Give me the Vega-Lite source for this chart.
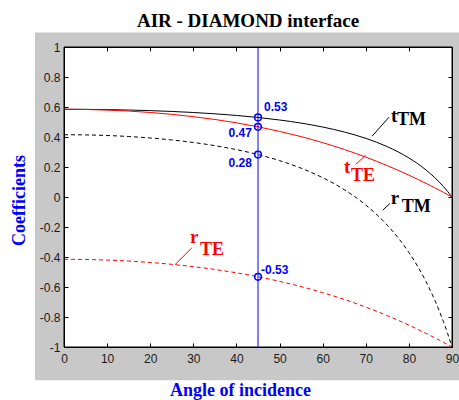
{
  "$schema": "https://vega.github.io/schema/vega-lite/v6.json",
  "width": 388,
  "height": 300,
  "autosize": {"type": "none"},
  "padding": {"left": 64, "top": 47, "right": 7, "bottom": 53},
  "background": "white",
  "title": {
    "text": "AIR - DIAMOND interface",
    "font": "Liberation Serif",
    "fontSize": 19,
    "fontWeight": "bold",
    "color": "black",
    "anchor": "middle",
    "frame": "group",
    "dx": -10,
    "dy": 22,
    "offset": 8,
    "baseline": "alphabetic"
  },
  "config": {
    "view": {"stroke": null},
    "axis": {"grid": false, "domainColor": "black", "tickColor": "black", "domainWidth": 1, "tickWidth": 1, "labelFlush": false, "labelOverlap": false}
  },
  "datasets": {
    "bg": [{"x1": -6.73, "x2": 92, "y1": -1.222, "y2": 1.097}],
    "frame": [{"x1": 0, "x2": 90, "y1": -1, "y2": 1}],
    "cursor": [{"angle": 45, "y1": -1, "y2": 1}],
    "curves": [
      {"angle": 0, "series": "tTE", "value": 0.5848}, {"angle": 0, "series": "tTM", "value": 0.5848}, {"angle": 0, "series": "rTE", "value": -0.4152}, {"angle": 0, "series": "rTM", "value": 0.4152},
      {"angle": 5, "series": "tTE", "value": 0.5835}, {"angle": 5, "series": "tTM", "value": 0.5843}, {"angle": 5, "series": "rTE", "value": -0.4165}, {"angle": 5, "series": "rTM", "value": 0.4139},
      {"angle": 10, "series": "tTE", "value": 0.5795}, {"angle": 10, "series": "tTM", "value": 0.5826}, {"angle": 10, "series": "rTE", "value": -0.4205}, {"angle": 10, "series": "rTM", "value": 0.4099},
      {"angle": 15, "series": "tTE", "value": 0.5729}, {"angle": 15, "series": "tTM", "value": 0.5798}, {"angle": 15, "series": "rTE", "value": -0.4271}, {"angle": 15, "series": "rTM", "value": 0.4032},
      {"angle": 20, "series": "tTE", "value": 0.5635}, {"angle": 20, "series": "tTM", "value": 0.5758}, {"angle": 20, "series": "rTE", "value": -0.4365}, {"angle": 20, "series": "rTM", "value": 0.3934},
      {"angle": 25, "series": "tTE", "value": 0.5511}, {"angle": 25, "series": "tTM", "value": 0.5704}, {"angle": 25, "series": "rTE", "value": -0.4489}, {"angle": 25, "series": "rTM", "value": 0.3803},
      {"angle": 30, "series": "tTE", "value": 0.5356}, {"angle": 30, "series": "tTM", "value": 0.5634}, {"angle": 30, "series": "rTE", "value": -0.4644}, {"angle": 30, "series": "rTM", "value": 0.3635},
      {"angle": 35, "series": "tTE", "value": 0.5168}, {"angle": 35, "series": "tTM", "value": 0.5546}, {"angle": 35, "series": "rTE", "value": -0.4832}, {"angle": 35, "series": "rTM", "value": 0.3422},
      {"angle": 40, "series": "tTE", "value": 0.4944}, {"angle": 40, "series": "tTM", "value": 0.5437}, {"angle": 40, "series": "rTE", "value": -0.5056}, {"angle": 40, "series": "rTM", "value": 0.3157},
      {"angle": 45, "series": "tTE", "value": 0.4680}, {"angle": 45, "series": "tTM", "value": 0.5302}, {"angle": 45, "series": "rTE", "value": -0.5320}, {"angle": 45, "series": "rTM", "value": 0.2830},
      {"angle": 50, "series": "tTE", "value": 0.4375}, {"angle": 50, "series": "tTM", "value": 0.5134}, {"angle": 50, "series": "rTE", "value": -0.5625}, {"angle": 50, "series": "rTM", "value": 0.2424},
      {"angle": 55, "series": "tTE", "value": 0.4024}, {"angle": 55, "series": "tTM", "value": 0.4926}, {"angle": 55, "series": "rTE", "value": -0.5976}, {"angle": 55, "series": "rTM", "value": 0.1920},
      {"angle": 60, "series": "tTE", "value": 0.3624}, {"angle": 60, "series": "tTM", "value": 0.4665}, {"angle": 60, "series": "rTE", "value": -0.6376}, {"angle": 60, "series": "rTM", "value": 0.1288},
      {"angle": 65, "series": "tTE", "value": 0.3170}, {"angle": 65, "series": "tTM", "value": 0.4335}, {"angle": 65, "series": "rTE", "value": -0.6830}, {"angle": 65, "series": "rTM", "value": 0.0490},
      {"angle": 70, "series": "tTE", "value": 0.2659}, {"angle": 70, "series": "tTM", "value": 0.3911}, {"angle": 70, "series": "rTE", "value": -0.7341}, {"angle": 70, "series": "rTM", "value": -0.0536},
      {"angle": 75, "series": "tTE", "value": 0.2089}, {"angle": 75, "series": "tTM", "value": 0.3354}, {"angle": 75, "series": "rTE", "value": -0.7911}, {"angle": 75, "series": "rTM", "value": -0.1883},
      {"angle": 80, "series": "tTE", "value": 0.1457}, {"angle": 80, "series": "tTM", "value": 0.2604}, {"angle": 80, "series": "rTE", "value": -0.8543}, {"angle": 80, "series": "rTM", "value": -0.3698},
      {"angle": 82, "series": "tTE", "value": 0.1186}, {"angle": 82, "series": "tTM", "value": 0.2228}, {"angle": 82, "series": "rTE", "value": -0.8814}, {"angle": 82, "series": "rTM", "value": -0.4608},
      {"angle": 84, "series": "tTE", "value": 0.0905}, {"angle": 84, "series": "tTM", "value": 0.1795}, {"angle": 84, "series": "rTE", "value": -0.9095}, {"angle": 84, "series": "rTM", "value": -0.5656},
      {"angle": 85, "series": "tTE", "value": 0.0760}, {"angle": 85, "series": "tTM", "value": 0.1553}, {"angle": 85, "series": "rTE", "value": -0.9240}, {"angle": 85, "series": "rTM", "value": -0.6241},
      {"angle": 86, "series": "tTE", "value": 0.0613}, {"angle": 86, "series": "tTM", "value": 0.1292}, {"angle": 86, "series": "rTE", "value": -0.9387}, {"angle": 86, "series": "rTM", "value": -0.6874},
      {"angle": 87, "series": "tTE", "value": 0.0464}, {"angle": 87, "series": "tTM", "value": 0.1009}, {"angle": 87, "series": "rTE", "value": -0.9536}, {"angle": 87, "series": "rTM", "value": -0.7559},
      {"angle": 88, "series": "tTE", "value": 0.0312}, {"angle": 88, "series": "tTM", "value": 0.0701}, {"angle": 88, "series": "rTE", "value": -0.9688}, {"angle": 88, "series": "rTM", "value": -0.8303},
      {"angle": 89, "series": "tTE", "value": 0.0157}, {"angle": 89, "series": "tTM", "value": 0.0366}, {"angle": 89, "series": "rTE", "value": -0.9843}, {"angle": 89, "series": "rTM", "value": -0.9114},
      {"angle": 90, "series": "tTE", "value": 0}, {"angle": 90, "series": "tTM", "value": 0}, {"angle": 90, "series": "rTE", "value": -1}, {"angle": 90, "series": "rTM", "value": -1}
    ],
    "marks45": [
      {"angle": 45, "value": 0.5302, "label": "0.53", "lx": 46.39, "ly": 0.575, "side": "right"},
      {"angle": 45, "value": 0.4680, "label": "0.47", "lx": 43.6, "ly": 0.399, "side": "left"},
      {"angle": 45, "value": 0.2830, "label": "0.28", "lx": 43.6, "ly": 0.202, "side": "left"},
      {"angle": 45, "value": -0.5320, "label": "-0.53", "lx": 45.7, "ly": -0.512, "side": "right"}
    ],
    "curveLabels": [
      {"series": "tTM", "main": "t", "sub": "TM", "mx": 75.85, "my": 0.499, "sx": 77.24, "sy": 0.479, "ax": 71.45, "ay": 0.405, "bx": 75.39, "by": 0.532},
      {"series": "tTE", "main": "t", "sub": "TE", "mx": 64.95, "my": 0.159, "sx": 66.57, "sy": 0.1055, "ax": 67.66, "ay": 0.217, "bx": 69.98, "by": 0.279},
      {"series": "rTM", "main": "r", "sub": "TM", "mx": 75.78, "my": -0.0434, "sx": 78.33, "sy": -0.0995, "ax": 73.93, "ay": -0.088, "bx": 75.62, "by": -0.043},
      {"series": "rTE", "main": "r", "sub": "TE", "mx": 29.23, "my": -0.3037, "sx": 31.55, "sy": -0.3885, "ax": 25.75, "ay": -0.451, "bx": 29.62, "by": -0.340}
    ]
  },
  "resolve": {"axis": {"x": "independent", "y": "independent"}},
  "layer": [
    {
      "data": {"name": "bg"},
      "mark": {"type": "rect", "color": "#c8c8c8"},
      "encoding": {
        "x": {"field": "x1", "type": "quantitative", "scale": {"domain": [0, 90], "nice": false, "zero": false},
          "axis": {"orient": "bottom", "zindex": 2, "values": [0, 10, 20, 30, 40, 50, 60, 70, 80, 90], "labelExpr": "'' + datum.value",
            "tickSize": -4, "labelPadding": 10, "labelFont": "Liberation Sans", "labelFontSize": 12, "labelColor": "#1a1a1a", "labelFlush": false,
            "title": "Angle of incidence", "titleFont": "Liberation Serif", "titleFontSize": 18, "titleFontWeight": "bold", "titleColor": "#0000ff",
            "titleX": 176, "titleY": 48, "titleAlign": "center", "titleBaseline": "alphabetic"}},
        "x2": {"field": "x2"},
        "y": {"field": "y1", "type": "quantitative", "scale": {"domain": [-1, 1], "nice": false, "zero": false},
          "axis": {"orient": "left", "zindex": 2, "values": [-1, -0.8, -0.6, -0.4, -0.2, 0, 0.2, 0.4, 0.6, 0.8, 1], "labelExpr": "'' + datum.value",
            "tickSize": -4, "labelPadding": 8, "labelFont": "Liberation Sans", "labelFontSize": 12, "labelColor": "#1a1a1a", "labelFlush": false,
            "title": "Coefficients", "titleFont": "Liberation Serif", "titleFontSize": 18, "titleFontWeight": "bold", "titleColor": "#0000ff",
            "titleX": -45, "titleY": 153, "titleAngle": 270, "titleAlign": "center", "titleBaseline": "middle"}},
        "y2": {"field": "y2"}
      }
    },
    {
      "data": {"name": "frame"},
      "mark": {"type": "rect", "fill": "white", "stroke": "black", "strokeWidth": 1},
      "encoding": {
        "x": {"field": "x1", "type": "quantitative", "scale": {"domain": [0, 90], "nice": false, "zero": false},
          "axis": {"orient": "top", "zindex": 2, "values": [0, 10, 20, 30, 40, 50, 60, 70, 80, 90], "labels": false, "tickSize": -4, "title": null}},
        "x2": {"field": "x2"},
        "y": {"field": "y1", "type": "quantitative", "scale": {"domain": [-1, 1], "nice": false, "zero": false},
          "axis": {"orient": "right", "zindex": 2, "values": [-1, -0.8, -0.6, -0.4, -0.2, 0, 0.2, 0.4, 0.6, 0.8, 1], "labels": false, "tickSize": -4, "title": null}},
        "y2": {"field": "y2"}
      }
    },
    {
      "data": {"name": "curves"},
      "transform": [{"filter": "datum.series === 'rTM' || datum.series === 'rTE'"}],
      "mark": {"type": "line", "strokeWidth": 1, "interpolate": "monotone", "strokeDash": [4, 3]},
      "encoding": {
        "x": {"field": "angle", "type": "quantitative", "scale": {"domain": [0, 90], "nice": false, "zero": false}, "axis": null},
        "y": {"field": "value", "type": "quantitative", "scale": {"domain": [-1, 1], "nice": false, "zero": false}, "axis": null},
        "color": {"field": "series", "type": "nominal", "scale": {"domain": ["tTM", "tTE", "rTM", "rTE"], "range": ["#000000", "#ff0000", "#000000", "#ff0000"]}, "legend": null},
        "order": {"field": "angle", "type": "quantitative"}
      }
    },
    {
      "data": {"name": "curves"},
      "transform": [{"filter": "datum.series === 'tTM'"}],
      "mark": {"type": "line", "strokeWidth": 1, "interpolate": "monotone"},
      "encoding": {
        "x": {"field": "angle", "type": "quantitative", "scale": {"domain": [0, 90], "nice": false, "zero": false}, "axis": null},
        "y": {"field": "value", "type": "quantitative", "scale": {"domain": [-1, 1], "nice": false, "zero": false}, "axis": null},
        "color": {"field": "series", "type": "nominal", "scale": {"domain": ["tTM", "tTE", "rTM", "rTE"], "range": ["#000000", "#ff0000", "#000000", "#ff0000"]}, "legend": null},
        "order": {"field": "angle", "type": "quantitative"}
      }
    },
    {
      "data": {"name": "curves"},
      "transform": [{"filter": "datum.series === 'tTE'"}],
      "mark": {"type": "line", "strokeWidth": 1, "interpolate": "monotone"},
      "encoding": {
        "x": {"field": "angle", "type": "quantitative", "scale": {"domain": [0, 90], "nice": false, "zero": false}, "axis": null},
        "y": {"field": "value", "type": "quantitative", "scale": {"domain": [-1, 1], "nice": false, "zero": false}, "axis": null},
        "color": {"field": "series", "type": "nominal", "scale": {"domain": ["tTM", "tTE", "rTM", "rTE"], "range": ["#000000", "#ff0000", "#000000", "#ff0000"]}, "legend": null},
        "order": {"field": "angle", "type": "quantitative"}
      }
    },
    {
      "data": {"name": "cursor"},
      "mark": {"type": "rule", "color": "#0000ff", "strokeWidth": 1},
      "encoding": {
        "x": {"field": "angle", "type": "quantitative", "scale": {"domain": [0, 90], "nice": false, "zero": false}, "axis": null},
        "y": {"field": "y1", "type": "quantitative", "scale": {"domain": [-1, 1], "nice": false, "zero": false}, "axis": null},
        "y2": {"field": "y2"}
      }
    },
    {
      "data": {"name": "curveLabels"},
      "mark": {"type": "rule", "strokeWidth": 1},
      "encoding": {
        "x": {"field": "ax", "type": "quantitative", "scale": {"domain": [0, 90], "nice": false, "zero": false}, "axis": null},
        "y": {"field": "ay", "type": "quantitative", "scale": {"domain": [-1, 1], "nice": false, "zero": false}, "axis": null},
        "x2": {"field": "bx"},
        "y2": {"field": "by"},
        "color": {"field": "series", "type": "nominal", "scale": {"domain": ["tTM", "tTE", "rTM", "rTE"], "range": ["#000000", "#ff0000", "#000000", "#ff0000"]}, "legend": null}
      }
    },
    {
      "data": {"name": "curveLabels"},
      "mark": {"type": "text", "font": "Liberation Serif", "fontSize": 19, "fontWeight": "bold", "align": "left", "baseline": "alphabetic"},
      "encoding": {
        "x": {"field": "mx", "type": "quantitative", "scale": {"domain": [0, 90], "nice": false, "zero": false}, "axis": null},
        "y": {"field": "my", "type": "quantitative", "scale": {"domain": [-1, 1], "nice": false, "zero": false}, "axis": null},
        "text": {"field": "main"},
        "color": {"field": "series", "type": "nominal", "scale": {"domain": ["tTM", "tTE", "rTM", "rTE"], "range": ["#000000", "#ff0000", "#000000", "#ff0000"]}, "legend": null}
      }
    },
    {
      "data": {"name": "curveLabels"},
      "mark": {"type": "text", "font": "Liberation Serif", "fontSize": 18, "fontWeight": "bold", "align": "left", "baseline": "alphabetic"},
      "encoding": {
        "x": {"field": "sx", "type": "quantitative", "scale": {"domain": [0, 90], "nice": false, "zero": false}, "axis": null},
        "y": {"field": "sy", "type": "quantitative", "scale": {"domain": [-1, 1], "nice": false, "zero": false}, "axis": null},
        "text": {"field": "sub"},
        "color": {"field": "series", "type": "nominal", "scale": {"domain": ["tTM", "tTE", "rTM", "rTE"], "range": ["#000000", "#ff0000", "#000000", "#ff0000"]}, "legend": null}
      }
    },
    {
      "data": {"name": "marks45"},
      "mark": {"type": "point", "shape": "circle", "filled": false, "stroke": "#0000ff", "strokeWidth": 1.5, "size": 45, "opacity": 1},
      "encoding": {
        "x": {"field": "angle", "type": "quantitative", "scale": {"domain": [0, 90], "nice": false, "zero": false}, "axis": null},
        "y": {"field": "value", "type": "quantitative", "scale": {"domain": [-1, 1], "nice": false, "zero": false}, "axis": null}
      }
    },
    {
      "data": {"name": "marks45"},
      "transform": [{"filter": "datum.side === 'right'"}],
      "mark": {"type": "text", "font": "Liberation Sans", "fontSize": 12, "fontWeight": "bold", "color": "#0000ff", "align": "left", "baseline": "alphabetic"},
      "encoding": {
        "x": {"field": "lx", "type": "quantitative", "scale": {"domain": [0, 90], "nice": false, "zero": false}, "axis": null},
        "y": {"field": "ly", "type": "quantitative", "scale": {"domain": [-1, 1], "nice": false, "zero": false}, "axis": null},
        "text": {"field": "label"}
      }
    },
    {
      "data": {"name": "marks45"},
      "transform": [{"filter": "datum.side === 'left'"}],
      "mark": {"type": "text", "font": "Liberation Sans", "fontSize": 12, "fontWeight": "bold", "color": "#0000ff", "align": "right", "baseline": "alphabetic"},
      "encoding": {
        "x": {"field": "lx", "type": "quantitative", "scale": {"domain": [0, 90], "nice": false, "zero": false}, "axis": null},
        "y": {"field": "ly", "type": "quantitative", "scale": {"domain": [-1, 1], "nice": false, "zero": false}, "axis": null},
        "text": {"field": "label"}
      }
    }
  ]
}
